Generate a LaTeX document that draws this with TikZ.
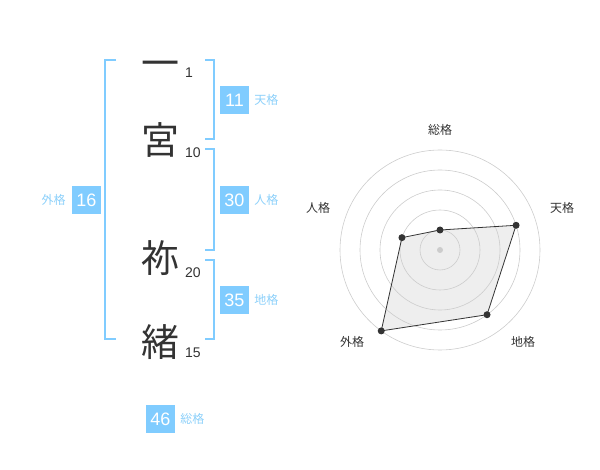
\documentclass[tikz,border=0pt]{standalone}
\usepackage{fontspec}
\setmainfont{Liberation Sans}
\newfontfamily\jp{Noto Sans CJK JP}
\usetikzlibrary{positioning}
\definecolor{kakublue}{RGB}{128,204,255}
\definecolor{kakutext}{RGB}{140,208,250}
\definecolor{mojigray}{RGB}{51,51,51}
\definecolor{ringgray}{RGB}{204,204,204}
\definecolor{radarfill}{RGB}{238,238,238}

\begin{document}
\begin{tikzpicture}[x=1pt,y=-1pt,
        moji/.style={inner sep=0,anchor=base,text=mojigray,font=\jp\fontsize{38}{38}\selectfont},
        kakusu/.style={inner sep=0,anchor=base west,text=mojigray,font=\fontsize{14}{14}\selectfont},
        kaku/.style={fill=kakublue,text=white,minimum width=29pt,minimum height=28pt,inner sep=0,font=\fontsize{18}{18}\selectfont},
        kakuname/.style={inner sep=0,text=kakutext,font=\jp\fontsize{12}{12}\selectfont},
        radarname/.style={inner sep=0,text=mojigray,font=\jp\fontsize{12}{12}\selectfont},
        bracket/.style={draw=kakublue,line width=2pt},
        node distance=5pt]
        \useasboundingbox (0,0) rectangle (600,470);
        % name
        \node [moji] (m1) at (160,77.5) {一};
        \node [moji] (m2) at (160,154.5) {宮};
        \node [moji] (m3) at (160,272.5) {祢};
        \node [moji] (m4) at (160,356.5) {緒};
        \node [kakusu] (s1) at (185,78) {1};
        \node [kakusu] (s2) at (185,158) {10};
        \node [kakusu] (s3) at (185,278) {20};
        \node [kakusu] (s4) at (185,358) {15};
        % brackets
        \draw [bracket] (116,60) -- (105,60) -- (105,339) -- (116,339);
        \draw [bracket] (205,60) -- (214,60) -- (214,139) -- (205,139);
        \draw [bracket] (205,149) -- (214,149) -- (214,250) -- (205,250);
        \draw [bracket] (205,260) -- (214,260) -- (214,339) -- (205,339);
        % boxes
        \node [kaku] (ten) at (234.5,100) {11};
        \node [kakuname,right=of ten] (tenname) {天格};
        \node [kaku] (jin) at (234.5,200) {30};
        \node [kakuname,right=of jin] (jinname) {人格};
        \node [kaku] (chi) at (234.5,300) {35};
        \node [kakuname,right=of chi] (chiname) {地格};
        \node [kaku] (gai) at (86.5,200) {16};
        \node [kakuname,left=6pt of gai] (gainame) {外格};
        \node [kaku] (sou) at (160.5,419) {46};
        \node [kakuname,right=of sou] (souname) {総格};
        % radar
        \begin{scope}[shift={(440,250)},yscale=-1]
                \coordinate (rsou) at (90:20);
                \coordinate (rten) at (18:80);
                \coordinate (rchi) at (-54:80);
                \coordinate (rgai) at (-126:100);
                \coordinate (rjin) at (162:40);
                \fill [radarfill] (rsou) -- (rten) -- (rchi) -- (rgai) -- (rjin) -- cycle;
                \foreach \r in {20,40,60,80,100}
                        \draw [ringgray,line width=0.6pt] (0,0) circle (\r);
                \fill [ringgray] (0,0) circle (3);
                \draw [mojigray,line width=0.8pt] (rsou) -- (rten) -- (rchi) -- (rgai) -- (rjin) -- cycle;
                \foreach \p in {rsou,rten,rchi,rgai,rjin}
                        \fill [mojigray] (\p) circle (3.5);
        \end{scope}
        \node [radarname] (lsou) at (440,130) {総格};
        \node [radarname] (lten) at (562,208) {天格};
        \node [radarname] (ljin) at (318,208) {人格};
        \node [radarname] (lgai) at (352,342) {外格};
        \node [radarname] (lchi) at (523,342) {地格};
\end{tikzpicture}
\end{document}
